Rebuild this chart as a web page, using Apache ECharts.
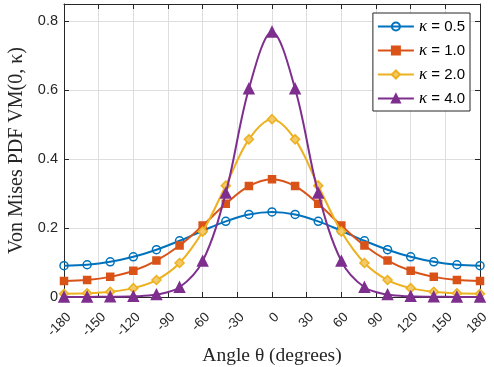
<!DOCTYPE html>
<html><head><meta charset="utf-8">
<script src="https://cdn.jsdelivr.net/npm/echarts@6/dist/echarts.min.js"></script>
<style>html,body{margin:0;padding:0;background:#fff}#c{width:494px;height:367px}</style>
</head><body><div id="c"></div>
<script>
const angles = [-180,-160,-140,-120,-100,-80,-60,-40,-20,0,20,40,60,80,100,120,140,160,180];
const k05 = [0.0908,0.0936,0.1020,0.1166,0.1372,0.1632,0.1922,0.2195,0.2394,0.2467,0.2394,0.2195,0.1922,0.1632,0.1372,0.1166,0.1020,0.0936,0.0908];
const k10 = [0.0462,0.0491,0.0584,0.0762,0.1057,0.1495,0.2073,0.2704,0.3217,0.3417,0.3217,0.2704,0.2073,0.1495,0.1057,0.0762,0.0584,0.0491,0.0462];
const k20 = [0.0095,0.0107,0.0151,0.0257,0.0493,0.0988,0.1898,0.3231,0.4573,0.5159,0.4573,0.3231,0.1898,0.0988,0.0493,0.0257,0.0151,0.0107,0.0095];
const k40 = [0.0003,0.0003,0.0007,0.0019,0.0070,0.0282,0.1041,0.3015,0.6040,0.7689,0.6040,0.3015,0.1041,0.0282,0.0070,0.0019,0.0007,0.0003,0.0003];
const seriesNames = ['κ = 0.5','κ = 1.0','κ = 2.0','κ = 4.0'];
const xTicks = [-180,-150,-120,-90,-60,-30,0,30,60,90,120,150,180];
const yTicks = [0,0.2,0.4,0.6,0.8];

const colors = ['#0072BD','#D95319','#EDB120','#7E2F8E'];
const symbols = ['circle','rect','diamond','triangle'];
const sizes = [8,7,9,10];
const fills = ['rgba(255,255,255,0)','#D95319','#F3C96A','#7E2F8E'];
const all = [k05,k10,k20,k40];
const axisCol = '#262626';

const chart = echarts.init(document.getElementById('c'), null, {renderer:'canvas'});
const series = all.map((vals,i)=>({
  name: seriesNames[i], type:'line', smooth:0.35,
  data: angles.map((a,j)=>[a, vals[j]]),
  symbol: symbols[i], symbolSize: sizes[i], showAllSymbol:true,
  lineStyle:{color:colors[i], width:2},
  itemStyle:{color:fills[i], borderColor:colors[i], borderWidth:1.5},
  xAxisIndex:0, yAxisIndex:0, z: 2+i
}));
chart.setOption({
  animation:false,
  backgroundColor:'#fff',
  grid:{left:64,right:14,top:4,bottom:70,containLabel:false,outerBoundsMode:'none'},
  legend:{
    orient:'vertical', right:24, top:13, padding:[5,5,4,4],
    backgroundColor:'#fff', borderColor:axisCol, borderWidth:1,
    itemWidth:36, itemHeight:10, itemGap:7,
    data: seriesNames,
    formatter: n => '{k|κ}{t|' + n.slice(1) + '}',
    textStyle:{rich:{
      k:{fontFamily:'Liberation Serif', fontStyle:'italic', fontSize:17, color:'#000'},
      t:{fontFamily:'Liberation Sans', fontSize:15, color:'#000'}
    }}
  },
  xAxis:[{
    type:'value', min:-180, max:180, interval:30, position:'bottom',
    name:'Angle θ (degrees)', nameLocation:'middle', nameGap:47,
    nameTextStyle:{fontFamily:'Liberation Serif', fontSize:19.5, color:axisCol},
    axisLine:{onZero:false, lineStyle:{color:axisCol, width:1}},
    axisTick:{inside:true, length:5, lineStyle:{color:axisCol}},
    axisLabel:{rotate:45, fontFamily:'Liberation Sans', fontSize:13.5, color:axisCol, margin:13, verticalAlign:'top',
      formatter: v => xTicks.includes(v) ? String(v) : ''},
    splitLine:{show:true, lineStyle:{color:'#dedede', width:1}}
  },{
    type:'value', min:-180, max:180, interval:30, position:'top',
    axisLine:{show:true, onZero:false, lineStyle:{color:axisCol, width:1}},
    axisTick:{show:true, inside:true, length:5, lineStyle:{color:axisCol}},
    axisLabel:{show:false}, splitLine:{show:false}
  }],
  yAxis:[{
    type:'value', min:0, max:0.85, interval:0.2, position:'left',
    name:'Von Mises PDF VM(0, κ)', nameLocation:'middle', nameGap:31,
    nameTextStyle:{fontFamily:'Liberation Serif', fontSize:20, color:axisCol},
    axisLine:{show:true, onZero:false, lineStyle:{color:axisCol, width:1}},
    axisTick:{show:true, inside:true, length:5, lineStyle:{color:axisCol}},
    axisLabel:{fontFamily:'Liberation Sans', fontSize:14.5, color:axisCol, margin:6, showMaxLabel:false,
      formatter: v => { const t = yTicks.find(y=>Math.abs(y-v)<1e-6); return t===undefined ? '' : (t===0 ? '0' : t.toFixed(1)); }},
    splitLine:{show:true, lineStyle:{color:'#dedede', width:1}}
  },{
    type:'value', min:0, max:0.85, interval:0.2, position:'right',
    axisLine:{show:true, onZero:false, lineStyle:{color:axisCol, width:1}},
    axisTick:{show:true, inside:true, length:5, lineStyle:{color:axisCol}},
    axisLabel:{show:false}, splitLine:{show:false}
  }],
  series: series
});
</script></body></html>
